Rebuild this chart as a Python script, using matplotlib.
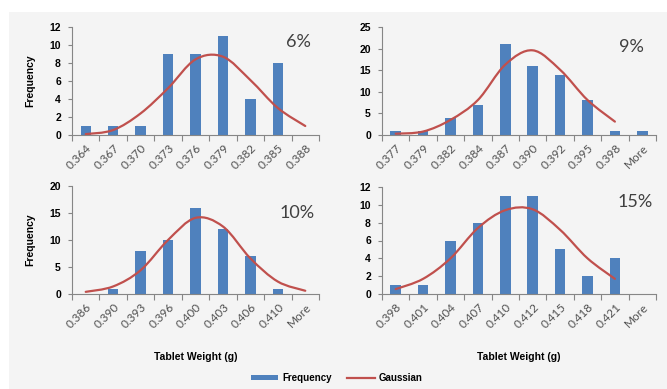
#!/usr/bin/env python3
# -*- coding: utf-8 -*-

'''
Tablet weight histograms with fitted Gaussian curves, four coating levels
'''

import numpy as np
from matplotlib import pyplot as plt
from matplotlib.path import Path
from matplotlib.patches import PathPatch, Rectangle, Patch
from matplotlib.lines import Line2D

# Bin labels, counts and Gaussian values per panel
bins_6 = ["0.364", "0.367", "0.370", "0.373", "0.376", "0.379", "0.382", "0.385", "0.388"]
freq_6 = [1, 1, 1, 9, 9, 11, 4, 8, 0]
gauss_6 = [0.1, 0.55, 2.4, 5.2, 8.4, 8.7, 6.1, 3.0, 1.0]

bins_9 = ["0.377", "0.379", "0.382", "0.384", "0.387", "0.390", "0.392", "0.395", "0.398", "More"]
freq_9 = [1, 1, 4, 7, 21, 16, 14, 8, 1, 1]
gauss_9 = [0.3, 0.8, 3.5, 8.1, 16.3, 19.6, 15.1, 8.1, 3.1]

bins_10 = ["0.386", "0.390", "0.393", "0.396", "0.400", "0.403", "0.406", "0.410", "More"]
freq_10 = [0, 1, 8, 10, 16, 12, 7, 1, 0]
gauss_10 = [0.4, 1.4, 4.4, 10.0, 14.1, 12.5, 6.6, 2.3, 0.6]

bins_15 = ["0.398", "0.401", "0.404", "0.407", "0.410", "0.412", "0.415", "0.418", "0.421", "More"]
freq_15 = [1, 1, 6, 8, 11, 11, 5, 2, 4, 0]
gauss_15 = [0.55, 1.7, 4.0, 7.4, 9.4, 9.5, 7.2, 4.0, 1.7]

tags = ["6%", "9%", "10%", "15%"]
ymax = [12, 25, 20, 12]
ystep = [2, 5, 5, 2]

bar_col = "#4F81BD"
line_col = "#C0504D"
axis_col = "#868686"

plt.rcParams['font.family'] = ['Lato', 'DejaVu Sans']


def smooth_path(xs, ys):
    # Catmull-Rom through the points, written as cubic Bezier segments
    pts = np.column_stack([xs, ys]).astype(float)
    verts = [pts[0]]
    codes = [Path.MOVETO]
    n = len(pts)
    for i in range(n - 1):
        p0 = pts[i - 1] if i > 0 else pts[i]
        p1 = pts[i]
        p2 = pts[i + 1]
        p3 = pts[i + 2] if i + 2 < n else pts[i + 1]
        c1 = p1 + (p2 - p0) / 6.0
        c2 = p2 - (p3 - p1) / 6.0
        verts += [c1, c2, p2]
        codes += [Path.CURVE4] * 3
    return Path(verts, codes)


fig = plt.figure(figsize=(6.67, 3.89), dpi=100)
fig.patches.append(Rectangle((9 / 667, 0), 1, 1 - 12 / 389, transform=fig.transFigure,
                             facecolor="#f4f4f4", edgecolor="none", zorder=-10))

rects = [
    [72 / 667, 1 - 135 / 389, 247 / 667, 108 / 389],
    [382 / 667, 1 - 135 / 389, 274 / 667, 108 / 389],
    [72 / 667, 1 - 294 / 389, 247 / 667, 108 / 389],
    [382 / 667, 1 - 294 / 389, 274 / 667, 107 / 389],
]
tag_pos = [(0.915, 0.86), (0.912, 0.815), (0.91, 0.75), (0.923, 0.864)]

panels = [(bins_6, freq_6, gauss_6), (bins_9, freq_9, gauss_9),
          (bins_10, freq_10, gauss_10), (bins_15, freq_15, gauss_15)]

bold_font = {"family": ["Liberation Sans", "DejaVu Sans"], "weight": "bold"}

for k, (labels, freq, gauss) in enumerate(panels):
    ax = fig.add_axes(rects[k])
    ax.set_facecolor("none")
    n = len(labels)
    x = np.arange(n)
    ax.bar(x, freq, width=0.38, color=bar_col, zorder=2)
    curve = PathPatch(smooth_path(x[:len(gauss)], gauss), facecolor="none",
                      edgecolor=line_col, lw=1.6, zorder=3, capstyle="round")
    ax.add_patch(curve)

    ax.set_xlim(-0.5, n - 0.5)
    ax.set_ylim(0, ymax[k])
    ax.set_yticks(np.arange(0, ymax[k] + 1, ystep[k]))
    for t in ax.get_yticklabels():
        t.set_fontproperties(bold_font)
        t.set_fontsize(7.5)
    ax.tick_params(axis="y", length=3, width=0.8, color=axis_col, pad=5)

    # bin edges carry the tick marks; the names sit on the bar centres
    ax.set_xticks(np.arange(n + 1) - 0.5)
    ax.set_xticklabels([])
    ax.tick_params(axis="x", which="major", length=4, width=0.8, color=axis_col)
    ax.tick_params(axis="x", which="minor", length=0)
    for xi, lab in zip(x, labels):
        ax.annotate(lab, xy=(xi, 0), xycoords=("data", "axes fraction"),
                    xytext=(3, -8), textcoords="offset points",
                    rotation=45, rotation_mode="anchor", ha="right", va="center",
                    fontsize=8.5, color="#505050")

    for s in ["top", "right"]:
        ax.spines[s].set_visible(False)
    for s in ["left", "bottom"]:
        ax.spines[s].set_color(axis_col)
        ax.spines[s].set_linewidth(0.8)

    ax.text(tag_pos[k][0], tag_pos[k][1], tags[k], transform=ax.transAxes,
            ha="center", va="center", fontsize=13, color="#404040")

    if k in (0, 2):
        ax.set_ylabel("Frequency", fontdict=dict(bold_font, size=7.5))
        ax.yaxis.set_label_coords(-0.15, 0.5)
    if k in (2, 3):
        ax.xaxis.set_label_coords(0.5, -0.54)
        ax.set_xlabel("Tablet Weight (g)", fontdict=dict(bold_font, size=7.5))

handles = [Patch(facecolor=bar_col, edgecolor="none"),
           Line2D([0], [0], color=line_col, lw=1.6)]
fig.legend(handles, ["Frequency", "Gaussian"], loc="center", bbox_to_anchor=(0.505, 0.028),
           ncol=2, frameon=False, handlelength=2.8, handleheight=0.5, handletextpad=0.4,
           columnspacing=1.6, prop={"family": ["Liberation Sans"], "weight": "bold", "size": 7})

fig.savefig("out.png", dpi=100, facecolor="white")
